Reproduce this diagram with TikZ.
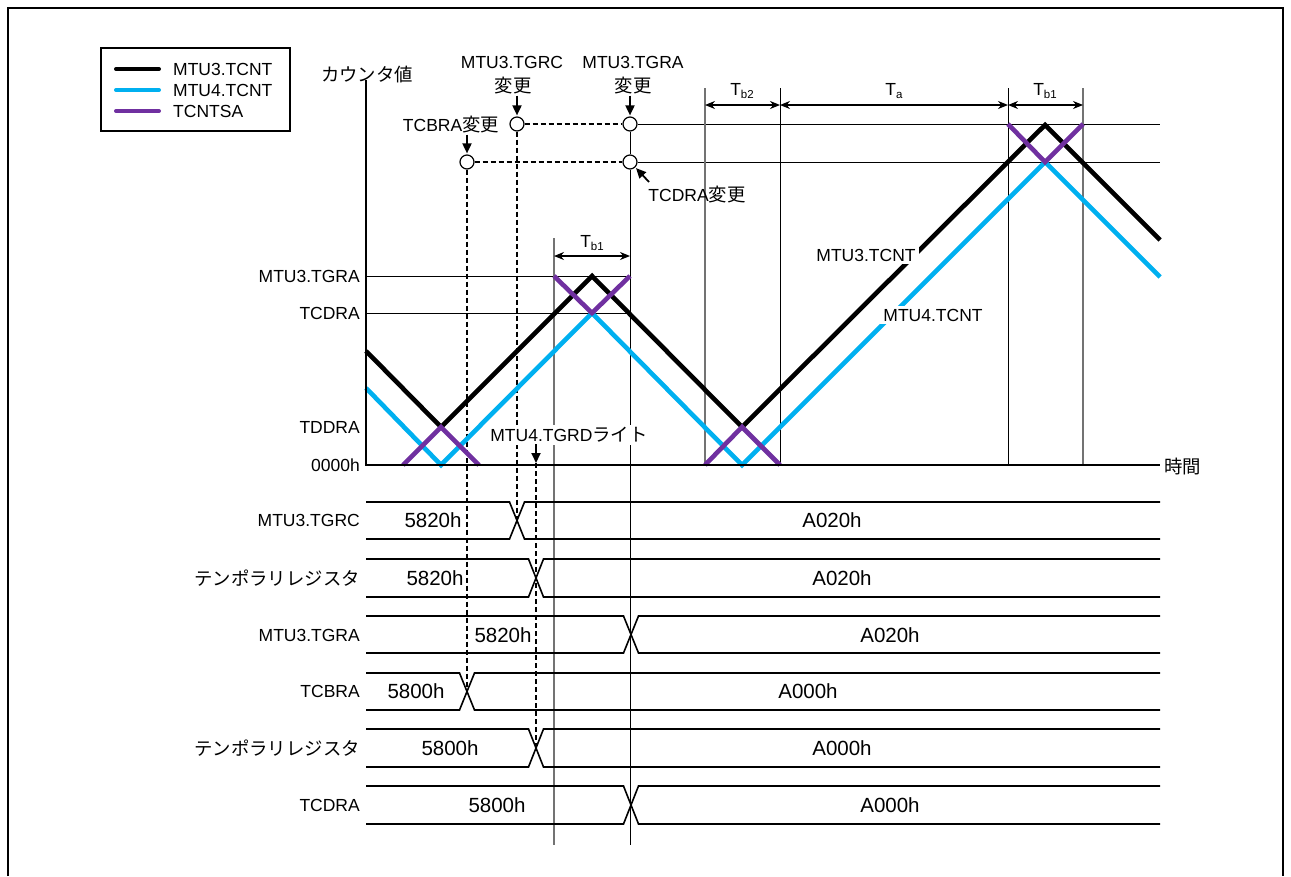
\documentclass[tikz,border=0pt]{standalone}
\usepackage{fontspec}
\setmainfont{Liberation Sans}
\newfontfamily\cjk{Noto Sans CJK JP}[Scale=1.05]
\usetikzlibrary{arrows.meta}
\definecolor{tcyan}{RGB}{0,176,240}
\definecolor{tpurple}{RGB}{112,48,160}
\newcommand\sbx[1]{\raisebox{-0.4ex}{\fontsize{11.5}{12}\selectfont #1}}
\newcommand\tmrow[3]{%
  \draw[rowl] (366,#1) -- ({#3-7.5},#1) -- ({#3+7.5},#2) -- (1160,#2);
  \draw[rowl] (366,#2) -- ({#3-7.5},#2) -- ({#3+7.5},#1) -- (1160,#1);
}
\begin{document}
\begin{tikzpicture}[x=1pt,y=-1pt,
  lab/.style={font=\fontsize{17.5}{20}\selectfont, inner sep=1pt},
  val/.style={font=\fontsize{20.5}{24}\selectfont, inner sep=1pt},
  curve/.style={line width=4.6pt, line join=miter},
  rowl/.style={line width=1.6pt},
  vline/.style={line width=1pt},
  gline/.style={line width=1.2pt, black!55},
  dline/.style={line width=1.6pt, dash pattern=on 5pt off 3pt},
  dim/.style={line width=1.2pt, {Stealth[length=10pt,width=8pt]}-{Stealth[length=10pt,width=8pt]}},
  chg/.style={line width=1.8pt, -{Triangle[length=10pt,width=9pt]}},
  circ/.style={circle, draw, line width=1.2pt, fill=white, minimum size=14pt, inner sep=0pt},
  legl/.style={line width=4pt, line cap=round},
]
\useasboundingbox (0,0) rectangle (1291,876);
% frame
\draw[line width=2pt] (8,876) -- (8,8) -- (1283,8) -- (1283,876);

% legend
\draw[line width=2pt] (101,48) rectangle (290,131);
\draw[legl] (116,69) -- (159,69);
\draw[legl, tcyan] (116,90) -- (159,90);
\draw[legl, tpurple] (116,111) -- (159,111);
\node[lab, anchor=west] (leg1) at (172,69) {MTU3.TCNT};
\node[lab, anchor=west] (leg2) at (172,90) {MTU4.TCNT};
\node[lab, anchor=west] (leg3) at (172,111) {TCNTSA};

% axis labels
\node[lab] (yl) at (367,75) {\cjk カウンタ値};
\node[lab, anchor=west] (xl) at (1163,467) {\cjk 時間};
\node[lab, anchor=east] (a1) at (361,276) {MTU3.TGRA};
\node[lab, anchor=east] (a2) at (361,313) {TCDRA};
\node[lab, anchor=east] (a3) at (361,427) {TDDRA};
\node[lab, anchor=east] (a4) at (361,465) {0000h};

% circles
\node[circ] (c1) at (517,124) {};
\node[circ] (c2) at (630,124) {};
\node[circ] (c3) at (467,162) {};
\node[circ] (c4) at (630,162) {};

% level lines
\draw[vline] (366,276) -- (630,276);
\draw[vline] (366,313) -- (630,313);
\draw[vline] (c2) -- (1160,124);
\draw[vline] (c4) -- (1160,162);
\draw[dline] (c1) -- (c2);
\draw[dline] (c3) -- (c4);

% vertical lines
\draw[vline] (c2) -- (c4);
\draw[vline] (c4.south) -- (630,845);
\draw[gline] (554,238) -- (554,845);
\draw[gline] (705,88) -- (705,465);
\draw[vline] (780,88) -- (780,465);
\draw[vline] (1008,88) -- (1008,465);
\draw[gline] (1083,88) -- (1083,465);

% dashed verticals
\draw[dline] (c1.south) -- (517,520);
\draw[dline] (c3.south) -- (467,691);
\coordinate (wd) at (536,463);
\draw[dline] (wd) -- (536,748);

% dimensions
\draw[dim] (705,105) -- (780,105);
\draw[dim] (780,105) -- (1008,105);
\draw[dim] (1008,105) -- (1083,105);
\draw[dim] (554,256) -- (630,256);
\node[lab] (tb2) at (742,91) {T\sbx{b2}};
\node[lab] (ta) at (894,91) {T\sbx{a}};
\node[lab] (tb1) at (1045,91) {T\sbx{b1}};
\node[lab] (tb1b) at (592,243) {T\sbx{b1}};

% curves
\draw[curve, tcyan] (366,388) -- (441,465) -- (592,313) -- (742,465) -- (1045,162) -- (1160,277);
\draw[curve] (366,351) -- (441,427) -- (592,276) -- (742,427) -- (1045,125) -- (1160,240);
\draw[curve, tpurple] (403,465) -- (441,427) -- (479,465);
\draw[curve, tpurple] (554,276) -- (592,313) -- (630,276);
\draw[curve, tpurple] (705,465) -- (742,427) -- (780,465);
\draw[curve, tpurple] (1008,124) -- (1045,162) -- (1083,124);

% axis
\draw[line width=2pt] (366,80) -- (366,465) -- (1160,465);

% curve labels
\node[lab, fill=white, inner sep=3pt] (m3) at (866,255) {MTU3.TCNT};
\node[lab, fill=white, inner sep=3pt] (m4) at (933,315) {MTU4.TCNT};

% change labels
\node[lab] (lTGRC) at (512,62) {MTU3.TGRC};
\node[lab] (lTGRCb) at (513,86) {\cjk 変更};
\node[lab] (lTGRA) at (633,62) {MTU3.TGRA};
\node[lab] (lTGRAb) at (633,86) {\cjk 変更};
\node[lab] (lTCBRA) at (451,125) {TCBRA{\cjk 変更}};
\node[lab] (lTCDRA) at (697,195) {TCDRA{\cjk 変更}};
\node[lab, fill=white, inner sep=2pt] (lTGRD) at (569,435) {MTU4.TGRD{\cjk ライト}};
\draw[chg, shorten >=1pt] (lTGRCb.south -| c1) -- (c1.north);
\draw[chg, shorten >=1pt] (lTGRAb.south -| c2) -- (c2.north);
\draw[chg, shorten >=1pt] (lTCBRA.south -| c3) -- (c3.north);
\coordinate (tcdraArr) at (649,182);
\draw[chg, shorten >=1pt] (tcdraArr) -- (c4.south east);
\coordinate (wdtop) at (536,444);
\draw[chg] (wdtop) -- (wd);

% timing rows
\tmrow{502}{539}{517}
\tmrow{559}{597}{536}
\tmrow{616}{653}{631}
\tmrow{673}{710}{467}
\tmrow{729}{767}{536}
\tmrow{786}{824}{631}

\node[lab, anchor=east] (r1) at (361,520) {MTU3.TGRC};
\node[lab, anchor=east] (r2) at (361,578) {\cjk テンポラリレジスタ};
\node[lab, anchor=east] (r3) at (361,635) {MTU3.TGRA};
\node[lab, anchor=east] (r4) at (361,691) {TCBRA};
\node[lab, anchor=east] (r5) at (361,748) {\cjk テンポラリレジスタ};
\node[lab, anchor=east] (r6) at (361,805) {TCDRA};

\node[val] (v1a) at (433,520) {5820h};
\node[val] (v1b) at (832,520) {A020h};
\node[val] (v2a) at (435,578) {5820h};
\node[val] (v2b) at (842,578) {A020h};
\node[val] (v3a) at (503,635) {5820h};
\node[val] (v3b) at (890,635) {A020h};
\node[val] (v4a) at (416,691) {5800h};
\node[val] (v4b) at (808,691) {A000h};
\node[val] (v5a) at (450,748) {5800h};
\node[val] (v5b) at (842,748) {A000h};
\node[val] (v6a) at (497,805) {5800h};
\node[val] (v6b) at (890,805) {A000h};
\end{tikzpicture}
\end{document}
